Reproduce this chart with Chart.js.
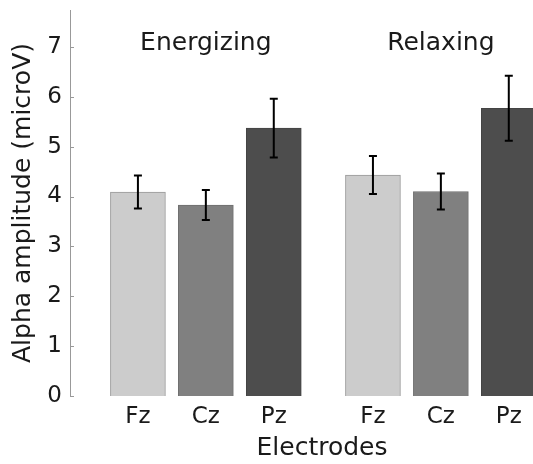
<!DOCTYPE html>
<html lang="en">
<head>
    <meta charset="UTF-8">
    <title>Alpha amplitude by electrode</title>
    <style>
        html, body { margin: 0; padding: 0; background: #fff; overflow: hidden; }
        #wrap { width: 533px; height: 464px; overflow: hidden; }
    </style>
</head>
<body>

<div id="wrap">
    <canvas id="myChart" width="574" height="464" role="img" aria-label="Alpha amplitude bar chart"></canvas>
</div>

<script src="https://cdn.jsdelivr.net/npm/chart.js@4/dist/chart.umd.min.js"></script>

<script>
    // data
    var electrodes = ['Fz', 'Cz', 'Pz', 'Fz', 'Cz', 'Pz'];
    var positions = [1, 2, 3, 4.46, 5.46, 6.46];
    var amplitude = [4.09, 3.83, 5.37, 4.43, 4.10, 5.77];
    var stdErr = [0.33, 0.30, 0.59, 0.38, 0.36, 0.65];
    var groups = ['Energizing', 'Relaxing'];
    var groupPos = [2, 5.46];
    var groupLabelY = 7.07;
    var yTicks = [0, 1, 2, 3, 4, 5, 6, 7];

    var barColors = ['#cccccc', '#808080', '#4d4d4d', '#cccccc', '#808080', '#4d4d4d'];
    var barBorders = ['#999999', '#6e6e6e', '#444444', '#999999', '#6e6e6e', '#444444'];
    var FONT = "'DejaVu Sans', sans-serif";
    var INK = '#1a1a1a';

    // error bars drawn on top of the bars
    var errorBars = {
        id: 'errorBars',
        afterDatasetsDraw: function (chart) {
            var ctx = chart.ctx, x = chart.scales.x, y = chart.scales.y;
            ctx.save();
            ctx.strokeStyle = '#000';
            ctx.lineWidth = 2;
            amplitude.forEach(function (v, i) {
                var px = x.getPixelForValue(positions[i]);
                var hi = y.getPixelForValue(v + stdErr[i]);
                var lo = y.getPixelForValue(v - stdErr[i]);
                ctx.beginPath();
                ctx.moveTo(px, hi); ctx.lineTo(px, lo);
                ctx.moveTo(px - 4, hi); ctx.lineTo(px + 4, hi);
                ctx.moveTo(px - 4, lo); ctx.lineTo(px + 4, lo);
                ctx.stroke();
            });
            ctx.restore();
        }
    };

    // inward tick marks on the y axis and the group names
    var extras = {
        id: 'extras',
        afterDraw: function (chart) {
            var ctx = chart.ctx, x = chart.scales.x, y = chart.scales.y;
            var left = chart.chartArea.left;
            ctx.save();
            ctx.strokeStyle = '#999999';
            ctx.lineWidth = 1;
            yTicks.forEach(function (t) {
                var py = Math.round(y.getPixelForValue(t)) + 0.5;
                ctx.beginPath();
                ctx.moveTo(left, py); ctx.lineTo(left + 4, py);
                ctx.stroke();
            });
            ctx.fillStyle = INK;
            ctx.font = '25px ' + FONT;
            ctx.textAlign = 'center';
            ctx.textBaseline = 'middle';
            groups.forEach(function (g, i) {
                ctx.fillText(g, x.getPixelForValue(groupPos[i]), y.getPixelForValue(groupLabelY));
            });
            ctx.restore();
        }
    };

    function createChart() {
        var ctx = document.getElementById('myChart').getContext('2d');
        new Chart(ctx, {
            type: 'bar',
            data: {
                datasets: [{
                    data: positions.map(function (p, i) { return { x: p, y: amplitude[i] }; }),
                    backgroundColor: barColors,
                    borderColor: barBorders,
                    borderWidth: 1,
                    barThickness: 55
                }]
            },
            options: {
                responsive: false,
                animation: false,
                layout: { padding: { top: 10, left: 0, right: 0, bottom: 0 } },
                plugins: { legend: { display: false }, tooltip: { enabled: false } },
                scales: {
                    x: {
                        type: 'linear',
                        offset: false,
                        min: 0,
                        max: 7.42,
                        grid: { display: false, offset: false, drawTicks: false },
                        border: { display: false },
                        afterBuildTicks: function (scale) {
                            scale.ticks = positions.map(function (p) { return { value: p }; });
                        },
                        afterFit: function (scale) {
                            scale.height = 68;
                            scale.paddingLeft = 0;
                            scale.paddingRight = 0;
                        },
                        ticks: {
                            autoSkip: false,
                            maxRotation: 0,
                            padding: 7,
                            color: INK,
                            font: { family: FONT, size: 23 },
                            callback: function (v, i) { return electrodes[i]; }
                        },
                        title: {
                            display: true,
                            text: 'Electrodes',
                            color: INK,
                            font: { family: FONT, size: 25 },
                            padding: { top: 0, bottom: 1 }
                        }
                    },
                    y: {
                        min: 0,
                        max: 7.74,
                        grid: { display: false, drawTicks: false },
                        border: { display: true, color: '#999999', width: 1 },
                        afterBuildTicks: function (scale) {
                            scale.ticks = yTicks.map(function (t) { return { value: t }; });
                        },
                        afterFit: function (scale) {
                            scale.width = 70;
                            scale.paddingTop = 0;
                            scale.paddingBottom = 0;
                        },
                        ticks: {
                            padding: 8,
                            color: INK,
                            font: { family: FONT, size: 23 }
                        },
                        title: {
                            display: true,
                            text: 'Alpha amplitude (microV)',
                            color: INK,
                            font: { family: FONT, size: 25 },
                            padding: { top: 8, bottom: 0 }
                        }
                    }
                }
            },
            plugins: [errorBars, extras]
        });
    }

    document.addEventListener('DOMContentLoaded', createChart);
</script>

</body>
</html>
